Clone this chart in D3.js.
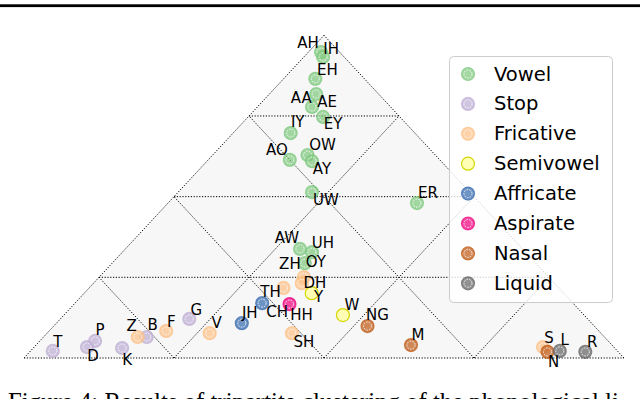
<!DOCTYPE html>
<html>
<head>
  <meta charset="UTF-8">
  <title>Tripartite clustering of phonemes</title>
  <script src="https://d3js.org/d3.v7.min.js"></script>
  <style>
    body { margin: 0; background: #fff; }
    svg { display: block; }
    .grid { fill: none; stroke: #000; stroke-width: 1; stroke-dasharray: 1.2,1.6; }
    .lbl { font-family: "DejaVu Sans", sans-serif; font-size: 15px; fill: #000; }
    .leg text { font-family: "DejaVu Sans", sans-serif; font-size: 19.5px; fill: #000; }
    .caption { font-family: "Liberation Serif", serif; font-size: 24.8px; fill: #000; }
  </style>
</head>
<body>
<svg width="640" height="399"></svg>
<script>
  // categories and Accent colours
  const categories = ["Vowel", "Stop", "Fricative", "Semivowel", "Affricate", "Aspirate", "Nasal", "Liquid"];
  const catColors = ["#7fc97f", "#beaed4", "#fdc086", "#ffff99", "#386cb0", "#f0027f", "#bf5b17", "#666666"];

  // phonemes, their class and ternary shares (right corner, top corner)
  const phonemes = ["AH","IH","EH","AA","AE","EY","IY","AO","OW","AY","UW","ER","AW","UH","OY",
                    "T","P","D","K","B","G",
                    "ZH","DH","TH","SH","Z","F","V","S",
                    "Y","W",
                    "CH","JH",
                    "HH",
                    "NG","M","N",
                    "L","R"];
  const phonemeClass = ["Vowel","Vowel","Vowel","Vowel","Vowel","Vowel","Vowel","Vowel","Vowel","Vowel","Vowel","Vowel","Vowel","Vowel","Vowel",
                        "Stop","Stop","Stop","Stop","Stop","Stop",
                        "Fricative","Fricative","Fricative","Fricative","Fricative","Fricative","Fricative","Fricative",
                        "Semivowel","Semivowel",
                        "Affricate","Affricate",
                        "Aspirate",
                        "Nasal","Nasal","Nasal",
                        "Liquid","Liquid"];
  const rightShare = [0.021,0.032,0.053,0.078,0.091,0.125,0.096,0.136,0.158,0.175,0.223,0.415,0.291,0.316,0.321,
                      0.037,0.092,0.088,0.148,0.172,0.215,
                      0.341,0.347,0.324,0.408,0.157,0.195,0.271,0.848,
                      0.379,0.465,
                      0.312,0.309,
                      0.359,
                      0.523,0.625,0.863,
                      0.882,0.926];
  const topShare = [0.948,0.933,0.865,0.818,0.778,0.747,0.697,0.614,0.629,0.610,0.514,0.480,0.338,0.328,0.294,
                    0.022,0.053,0.034,0.031,0.065,0.121,
                    0.251,0.232,0.217,0.077,0.065,0.084,0.077,0.034,
                    0.201,0.133,
                    0.170,0.108,
                    0.167,
                    0.099,0.040,0.019,
                    0.022,0.019];

  // where each label sits relative to its marker
  const labelOffset = {
    AH:[-13,-9], IH:[8,-8], EH:[12,-9], AA:[-15,4], AE:[15,-5], EY:[10,7], IY:[7,-11],
    AO:[-13,-10], OW:[15,-10], AY:[10,8], UW:[14,8], ER:[11,-10], AW:[-13,-11], UH:[11,-9],
    OY:[11,-1], ZH:[-14,-13], DH:[13,0], Y:[7,4], TH:[-13,4], CH:[15,9], HH:[12,11],
    JH:[8,-10], SH:[12,9], W:[9,-10], NG:[10,-11], T:[5,-9], P:[5,-11], D:[6,9], K:[5,12],
    Z:[-6,-11], B:[6,-12], F:[5,-9], G:[7,-9], V:[7,-10], M:[7,-10], S:[6,-9], N:[6,10],
    L:[5,-11], R:[7,-10]
  };

  const svg = d3.select("svg");
  const x = d3.scaleLinear().domain([0, 1]).range([24, 624]);
  const y = d3.scaleLinear().domain([0, 1]).range([358, 35.3]);
  const color = d3.scaleOrdinal().domain(categories).range(catColors);

  // ternary (right, top) -> screen
  const px = (r, t) => x(r + t / 2);
  const py = (r, t) => y(t);

  // page rule at top
  svg.append("rect").attr("x", 0).attr("y", 4.3).attr("width", 640).attr("height", 2.8).attr("fill", "#000");

  // triangle background
  const corners = [[0, 0], [1, 0], [0, 1]];
  svg.append("polygon")
    .attr("points", corners.map(c => [px(c[0], c[1]), py(c[0], c[1])].join(",")).join(" "))
    .attr("fill", "#f7f7f7");

  // grid lines, 4 steps per side
  const segs = [];
  for (let k = 1; k < 4; k++) {
    const f = k / 4;
    segs.push([[0, f], [1 - f, f]]);        // constant top
    segs.push([[f, 0], [f, 1 - f]]);        // constant right
    segs.push([[1 - f, 0], [0, 1 - f]]);    // constant left
  }
  segs.push([[0, 0], [1, 0]], [[1, 0], [0, 1]], [[0, 1], [0, 0]]);
  svg.append("g").selectAll("line")
    .data(segs).enter().append("line")
    .attr("class", "grid")
    .attr("x1", d => px(d[0][0], d[0][1])).attr("y1", d => py(d[0][0], d[0][1]))
    .attr("x2", d => px(d[1][0], d[1][1])).attr("y2", d => py(d[1][0], d[1][1]));

  function marker(sel, cat) {
    const c = color(cat);
    sel.append("circle").attr("r", 6.5)
      .attr("fill", c).attr("fill-opacity", 0.72)
      .attr("stroke", cat === "Semivowel" ? "#d6d600" : c)
      .attr("stroke-opacity", cat === "Semivowel" ? 1 : 0.72)
      .attr("stroke-width", 1.2);
    if (cat !== "Semivowel") {
      sel.append("circle").attr("r", 4)
        .attr("fill", "none").attr("stroke", "#fff").attr("stroke-width", 0.9)
        .attr("stroke-dasharray", "1.6,1.2").attr("stroke-opacity", 0.9);
    }
  }

  const pts = phonemes.map((p, i) => ({ p, cat: phonemeClass[i], r: rightShare[i], t: topShare[i] }));
  pts.sort((a, b) => categories.indexOf(a.cat) - categories.indexOf(b.cat));

  const dots = svg.append("g");
  pts.forEach(d => {
    const g = dots.append("g").attr("transform", `translate(${px(d.r, d.t)},${py(d.r, d.t)})`);
    marker(g, d.cat);
  });

  svg.append("g").selectAll("text")
    .data(pts).enter().append("text")
    .attr("class", "lbl")
    .attr("x", d => px(d.r, d.t) + labelOffset[d.p][0])
    .attr("y", d => py(d.r, d.t) + labelOffset[d.p][1])
    .attr("text-anchor", "middle")
    .attr("dominant-baseline", "central")
    .text(d => d.p);

  // legend
  const leg = svg.append("g").attr("class", "leg");
  leg.append("rect")
    .attr("x", 449.5).attr("y", 56.5).attr("width", 163).attr("height", 246).attr("rx", 4)
    .attr("fill", "#fff").attr("fill-opacity", 0.8).attr("stroke", "#cccccc");
  categories.forEach((cat, i) => {
    const row = leg.append("g").attr("transform", `translate(468,${74 + i * 29.9})`);
    marker(row, cat);
    row.append("text").attr("x", 26).attr("y", 0).attr("dominant-baseline", "central").text(cat);
  });

  // caption, clipped by the page edge
  svg.append("text").attr("class", "caption")
    .attr("x", 8).attr("y", 410)
    .text("Figure 4: Results of tripartite clustering of the phonological li");
</script>
</body>
</html>
